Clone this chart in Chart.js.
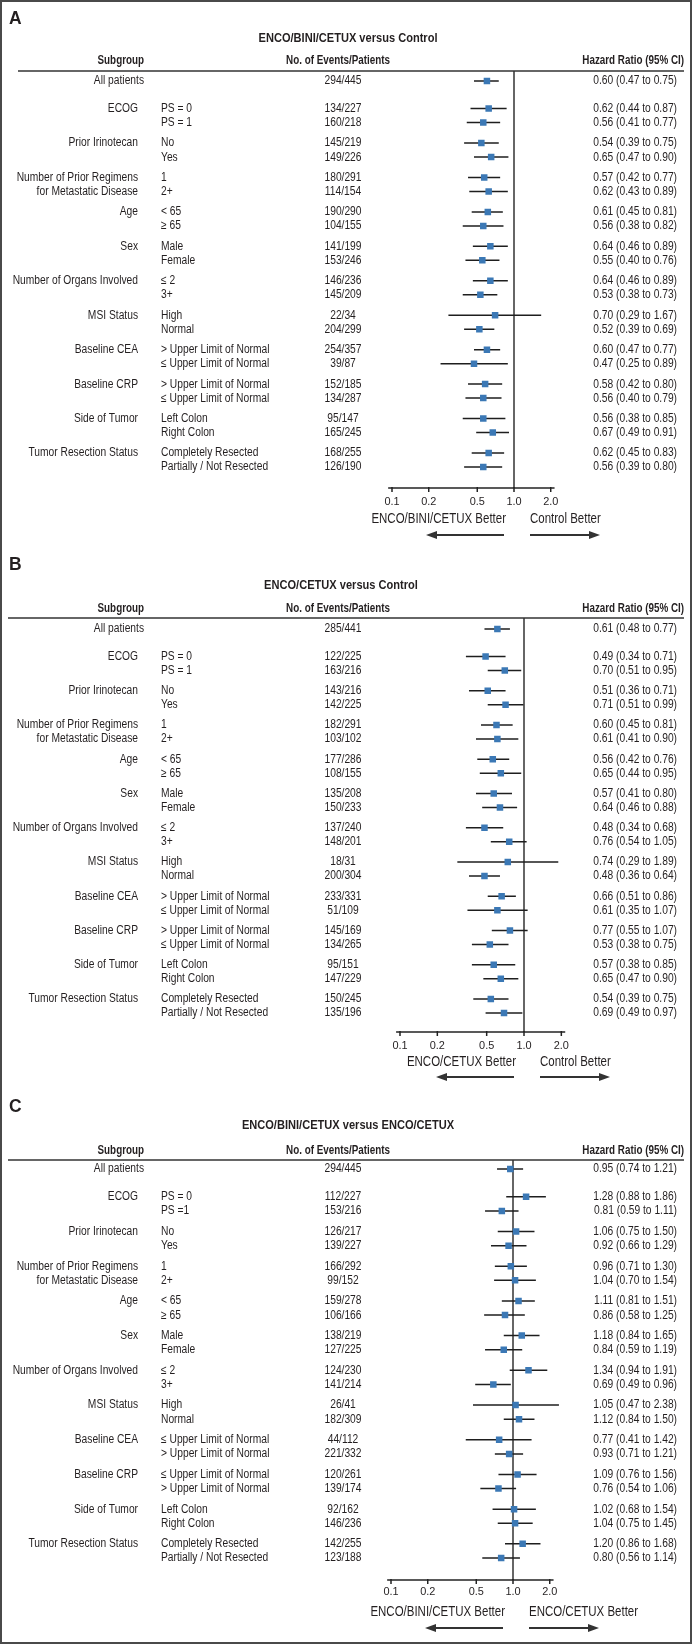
<!DOCTYPE html>
<html>
<head>
<meta charset="utf-8">
<script src="https://cdn.jsdelivr.net/npm/chart.js@4.4.1/dist/chart.umd.min.js"></script>
<style>
  body { margin: 0; background: #fff; }
  #page { position: relative; width: 692px; height: 1644px; overflow: hidden; background: #fff; }
  #page canvas { position: absolute; left: 0; }
  #frame { position: absolute; left: 0; top: 0; width: 692px; height: 1644px; box-sizing: border-box;
           border: 2px solid #4a4a4a; pointer-events: none; }
</style>
</head>
<body>
<div id="page"><div id="frame"></div></div>
<script>
// Data
const groupLabels = ['All patients', 'ECOG', 'Prior Irinotecan', 'Number of Prior Regimens|for Metastatic Disease',
  'Age', 'Sex', 'Number of Organs Involved', 'MSI Status', 'Baseline CEA', 'Baseline CRP',
  'Side of Tumor', 'Tumor Resection Status'];

const levelsAB = ['', 'PS = 0', 'PS = 1', 'No', 'Yes', '1', '2+', '< 65', '\u2265 65', 'Male', 'Female',
  '\u2264 2', '3+', 'High', 'Normal', '> Upper Limit of Normal', '\u2264 Upper Limit of Normal',
  '> Upper Limit of Normal', '\u2264 Upper Limit of Normal', 'Left Colon', 'Right Colon',
  'Completely Resected', 'Partially / Not Resected'];
const levelsC = ['', 'PS = 0', 'PS =1', 'No', 'Yes', '1', '2+', '< 65', '\u2265 65', 'Male', 'Female',
  '\u2264 2', '3+', 'High', 'Normal', '\u2264 Upper Limit of Normal', '> Upper Limit of Normal',
  '\u2264 Upper Limit of Normal', '> Upper Limit of Normal', 'Left Colon', 'Right Colon',
  'Completely Resected', 'Partially / Not Resected'];

const eventsA = ['294/445', '134/227', '160/218', '145/219', '149/226', '180/291', '114/154', '190/290', '104/155',
  '141/199', '153/246', '146/236', '145/209', '22/34', '204/299', '254/357', '39/87', '152/185', '134/287',
  '95/147', '165/245', '168/255', '126/190'];
const hrA = [0.60, 0.62, 0.56, 0.54, 0.65, 0.57, 0.62, 0.61, 0.56, 0.64, 0.55, 0.64, 0.53, 0.70, 0.52, 0.60, 0.47, 0.58, 0.56, 0.56, 0.67, 0.62, 0.56];
const loA = [0.47, 0.44, 0.41, 0.39, 0.47, 0.42, 0.43, 0.45, 0.38, 0.46, 0.40, 0.46, 0.38, 0.29, 0.39, 0.47, 0.25, 0.42, 0.40, 0.38, 0.49, 0.45, 0.39];
const hiA = [0.75, 0.87, 0.77, 0.75, 0.90, 0.77, 0.89, 0.81, 0.82, 0.89, 0.76, 0.89, 0.73, 1.67, 0.69, 0.77, 0.89, 0.80, 0.79, 0.85, 0.91, 0.83, 0.80];

const eventsB = ['285/441', '122/225', '163/216', '143/216', '142/225', '182/291', '103/102', '177/286', '108/155',
  '135/208', '150/233', '137/240', '148/201', '18/31', '200/304', '233/331', '51/109', '145/169', '134/265',
  '95/151', '147/229', '150/245', '135/196'];
const hrB = [0.61, 0.49, 0.70, 0.51, 0.71, 0.60, 0.61, 0.56, 0.65, 0.57, 0.64, 0.48, 0.76, 0.74, 0.48, 0.66, 0.61, 0.77, 0.53, 0.57, 0.65, 0.54, 0.69];
const loB = [0.48, 0.34, 0.51, 0.36, 0.51, 0.45, 0.41, 0.42, 0.44, 0.41, 0.46, 0.34, 0.54, 0.29, 0.36, 0.51, 0.35, 0.55, 0.38, 0.38, 0.47, 0.39, 0.49];
const hiB = [0.77, 0.71, 0.95, 0.71, 0.99, 0.81, 0.90, 0.76, 0.95, 0.80, 0.88, 0.68, 1.05, 1.89, 0.64, 0.86, 1.07, 1.07, 0.75, 0.85, 0.90, 0.75, 0.97];

const eventsC = ['294/445', '112/227', '153/216', '126/217', '139/227', '166/292', '99/152', '159/278', '106/166',
  '138/219', '127/225', '124/230', '141/214', '26/41', '182/309', '44/112', '221/332', '120/261', '139/174',
  '92/162', '146/236', '142/255', '123/188'];
const hrC = [0.95, 1.28, 0.81, 1.06, 0.92, 0.96, 1.04, 1.11, 0.86, 1.18, 0.84, 1.34, 0.69, 1.05, 1.12, 0.77, 0.93, 1.09, 0.76, 1.02, 1.04, 1.20, 0.80];
const loC = [0.74, 0.88, 0.59, 0.75, 0.66, 0.71, 0.70, 0.81, 0.58, 0.84, 0.59, 0.94, 0.49, 0.47, 0.84, 0.41, 0.71, 0.76, 0.54, 0.68, 0.75, 0.86, 0.56];
const hiC = [1.21, 1.86, 1.11, 1.50, 1.29, 1.30, 1.54, 1.51, 1.25, 1.65, 1.19, 1.91, 0.96, 2.38, 1.50, 1.42, 1.21, 1.56, 1.06, 1.54, 1.45, 1.68, 1.14];

const tickValues = [0.1, 0.2, 0.5, 1, 2];
const tickLabels = ['0.1', '0.2', '0.5', '1.0', '2.0'];

const panelLetters = ['A', 'B', 'C'];
const panelTitles = ['ENCO/BINI/CETUX versus Control', 'ENCO/CETUX versus Control', 'ENCO/BINI/CETUX versus ENCO/CETUX'];
const leftBetter = ['ENCO/BINI/CETUX Better', 'ENCO/CETUX Better', 'ENCO/BINI/CETUX Better'];
const rightBetter = ['Control Better', 'Control Better', 'ENCO/CETUX Better'];

// Layout (page pixels)
const layouts = [
  { top: 0, h: 548, label: 19, title: 38, titleX: 348, header: 61, line: 71, all: 81, last: 467, axis: 488, ticks: 502, better: 519, arrows: 535, lineStart: 18, one: 514, dec: 122 },
  { top: 548, h: 542, label: 565, title: 585, titleX: 341, header: 609, line: 618, all: 629, last: 1013, axis: 1032, ticks: 1046, better: 1062, arrows: 1077, lineStart: 8, one: 524, dec: 124 },
  { top: 1090, h: 554, label: 1107, title: 1125, titleX: 348, header: 1151, line: 1160, all: 1169, last: 1558, axis: 1580, ticks: 1592, better: 1612, arrows: 1628, lineStart: 8, one: 513, dec: 122 },
];

const X_MIN = 0.09, X_MAX = 2.5;
const INK = '#231f20';
const BLUE = '#3b78b5';
const FONT = '"Liberation Sans", Arial, Helvetica, sans-serif';

const rowY = (i) => (i === 0 ? 0 : 27.5 + Math.floor((i - 1) / 2) * 34.35 + ((i - 1) % 2) * 14);

const txt = (ctx, s, x, y, o) => {
  ctx.save();
  ctx.font = (o.bold ? 'bold ' : '') + o.size + 'px ' + FONT;
  ctx.fillStyle = o.color || INK;
  ctx.textBaseline = 'middle';
  ctx.textAlign = o.align || 'left';
  ctx.translate(x, y);
  ctx.scale(o.sx === undefined ? 0.82 : o.sx, 1);
  ctx.fillText(s, 0, 0);
  ctx.restore();
};

const arrow = (ctx, x1, x2, y, headLeft) => {
  ctx.save();
  ctx.strokeStyle = '#333';
  ctx.fillStyle = '#333';
  ctx.lineWidth = 1.8;
  ctx.beginPath();
  ctx.moveTo(headLeft ? x1 + 6 : x1, y);
  ctx.lineTo(headLeft ? x2 : x2 - 6, y);
  ctx.stroke();
  ctx.beginPath();
  if (headLeft) {
    ctx.moveTo(x1, y); ctx.lineTo(x1 + 11, y - 4); ctx.lineTo(x1 + 11, y + 4);
  } else {
    ctx.moveTo(x2, y); ctx.lineTo(x2 - 11, y - 4); ctx.lineTo(x2 - 11, y + 4);
  }
  ctx.closePath();
  ctx.fill();
  ctx.restore();
};

const makePanel = (p, L, levels, events, hr, lo, hi) => {
  const page = document.getElementById('page');
  const canvas = document.createElement('canvas');
  canvas.width = 692;
  canvas.height = L.h;
  canvas.style.top = L.top + 'px';
  page.insertBefore(canvas, document.getElementById('frame'));

  const ppu = (L.last - L.all) / rowY(22);
  const yMin = -(L.all - L.line) / ppu;
  const yMax = (L.axis - L.all) / ppu;
  const padLeft = L.one - L.dec * Math.log10(1 / X_MIN);
  const padRight = 692 - (L.one + L.dec * Math.log10(X_MAX));
  const off = (v) => v - L.top;

  const ciSets = hr.map((v, i) => ({
    type: 'scatter',
    data: [{ x: lo[i], y: rowY(i) }, { x: hi[i], y: rowY(i) }],
    showLine: true,
    borderColor: '#1e1e1e',
    borderWidth: 1.5,
    pointRadius: 0,
    order: 2,
  }));

  const furniture = {
    id: 'furniture' + p,
    beforeDatasetsDraw(chart) {
      const { ctx, chartArea, scales } = chart;
      const x1 = scales.x.getPixelForValue(1);
      ctx.save();
      ctx.strokeStyle = '#333';
      ctx.lineWidth = 1.5;
      ctx.beginPath();
      ctx.moveTo(x1, chartArea.top);
      ctx.lineTo(x1, chartArea.bottom);
      ctx.stroke();
      // header rule
      ctx.beginPath();
      ctx.moveTo(L.lineStart, chartArea.top);
      ctx.lineTo(684, chartArea.top);
      ctx.stroke();
      // x axis
      ctx.strokeStyle = '#222';
      ctx.beginPath();
      ctx.moveTo(scales.x.getPixelForValue(0.093), chartArea.bottom);
      ctx.lineTo(scales.x.getPixelForValue(2.15), chartArea.bottom);
      ctx.stroke();
      tickValues.forEach((t) => {
        const tx = scales.x.getPixelForValue(t);
        ctx.beginPath();
        ctx.moveTo(tx, chartArea.bottom - 1);
        ctx.lineTo(tx, chartArea.bottom + 4);
        ctx.stroke();
      });
      ctx.restore();
    },
    afterDraw(chart) {
      const { ctx, scales } = chart;
      const x1 = scales.x.getPixelForValue(1);
      txt(ctx, panelLetters[p], 9, off(L.label), { size: 19, bold: true, sx: 0.92 });
      txt(ctx, panelTitles[p], L.titleX, off(L.title), { size: 13.5, bold: true, align: 'center' });
      txt(ctx, 'Subgroup', 144, off(L.header), { size: 12, bold: true, align: 'right' });
      txt(ctx, 'No. of Events/Patients', 338, off(L.header), { size: 12, bold: true, align: 'center' });
      txt(ctx, 'Hazard Ratio (95% CI)', 684, off(L.header), { size: 12, bold: true, align: 'right' });

      hr.forEach((v, i) => {
        const y = scales.y.getPixelForValue(rowY(i));
        if (i === 0) {
          txt(ctx, groupLabels[0], 144, y, { size: 12.5, align: 'right' });
        } else if (i % 2 === 1) {
          const g = groupLabels[(i + 1) / 2].split('|');
          txt(ctx, g[0], 138, y, { size: 12.5, align: 'right' });
          if (g[1]) txt(ctx, g[1], 138, scales.y.getPixelForValue(rowY(i + 1)), { size: 12.5, align: 'right' });
        }
        if (levels[i]) txt(ctx, levels[i], 161, y, { size: 12.5 });
        txt(ctx, events[i], 343, y, { size: 12.5, align: 'center' });
        txt(ctx, v.toFixed(2) + ' (' + lo[i].toFixed(2) + ' to ' + hi[i].toFixed(2) + ')', 677, y, { size: 12.5, align: 'right' });
      });

      tickValues.forEach((t, k) => {
        txt(ctx, tickLabels[k], scales.x.getPixelForValue(t), off(L.ticks), { size: 11.5, align: 'center', sx: 0.95 });
      });
      txt(ctx, leftBetter[p], x1 - 8, off(L.better), { size: 14, align: 'right' });
      txt(ctx, rightBetter[p], x1 + 16, off(L.better), { size: 14 });
      arrow(ctx, x1 - 88, x1 - 10, off(L.arrows), true);
      arrow(ctx, x1 + 16, x1 + 86, off(L.arrows), false);
    },
  };

  return new Chart(canvas, {
    data: {
      datasets: [
        {
          type: 'scatter',
          data: hr.map((v, i) => ({ x: v, y: rowY(i) })),
          pointStyle: 'rect',
          pointRadius: 4.6,
          backgroundColor: BLUE,
          borderWidth: 0,
          order: 1,
        },
        ...ciSets,
      ],
    },
    options: {
      responsive: false,
      animation: false,
      devicePixelRatio: 1,
      layout: {
        padding: { left: padLeft, right: padRight, top: off(L.line), bottom: L.h - off(L.axis) },
      },
      plugins: { legend: { display: false }, tooltip: { enabled: false } },
      scales: {
        x: { type: 'logarithmic', min: X_MIN, max: X_MAX, display: false },
        y: { type: 'linear', min: yMin, max: yMax, reverse: true, display: false },
      },
    },
    plugins: [furniture],
  });
};

makePanel(0, layouts[0], levelsAB, eventsA, hrA, loA, hiA);
makePanel(1, layouts[1], levelsAB, eventsB, hrB, loB, hiB);
makePanel(2, layouts[2], levelsC, eventsC, hrC, loC, hiC);
</script>
</body>
</html>
